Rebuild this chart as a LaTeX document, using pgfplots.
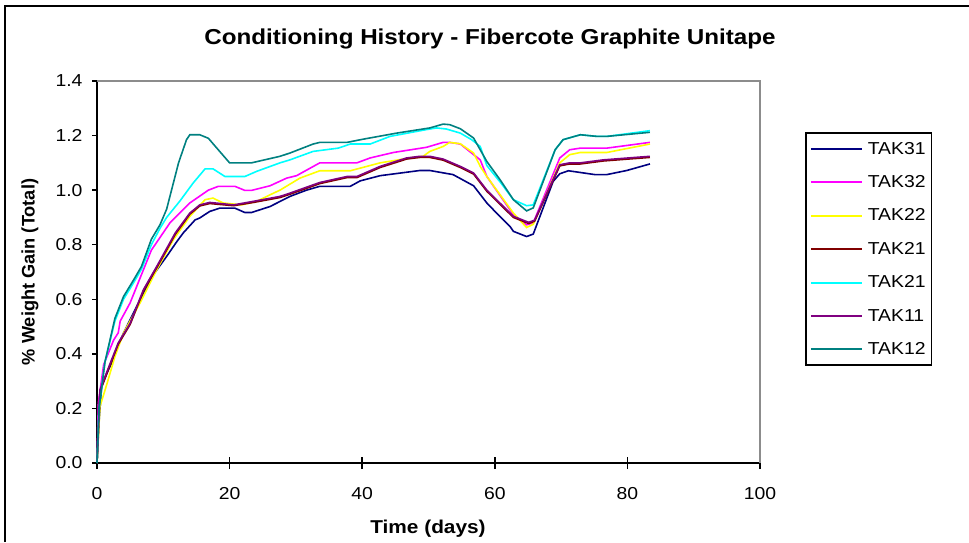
\documentclass[border=0pt]{standalone}
\usepackage{pgfplots}
\pgfplotsset{compat=1.18}
\usepackage{fontspec}
\setmainfont[FakeStretch=1.12]{Liberation Sans}
\newfontfamily\plainfont{Liberation Sans}
\definecolor{cnavy}{RGB}{0,0,128}
\definecolor{cmag}{RGB}{255,0,255}
\definecolor{cyel}{RGB}{255,255,0}
\definecolor{cmar}{RGB}{128,0,0}
\definecolor{ccyan}{RGB}{0,255,255}
\definecolor{cpur}{RGB}{128,0,128}
\definecolor{cteal}{RGB}{0,128,128}
\begin{document}
\begin{tikzpicture}[x=1pt,y=1pt]
\useasboundingbox (0,0) rectangle (969,542);
\draw[line width=2pt] (5,0) -- (5,536) -- (969,536);
\node[anchor=base,font=\fontsize{21.6}{24}\selectfont\bfseries] at (490,497) {Conditioning History - Fibercote Graphite Unitape};
\node[anchor=base,font=\fontsize{18.6}{20}\selectfont\bfseries] at (428,9) {Time (days)};
\node[rotate=90,font=\plainfont\fontsize{18.2}{20}\selectfont\bfseries] at (30,270) {\% Weight Gain (Total)};
\begin{axis}[
  at={(97pt,79pt)}, anchor=south west,
  scale only axis, width=663pt, height=382pt,
  xmin=0, xmax=100, ymin=0, ymax=1.4,
  xtick={0,20,...,100}, ytick={0,0.2,...,1.4},
  axis lines*=left,
  axis line style={black, line width=1.5pt},
  tick align=outside,
  major tick length=5pt,
  tick style={black, line width=1.5pt},
  xtick style={/pgfplots/major tick length=12pt, yshift=6pt},
  ticklabel style={font=\fontsize{17.3}{19}\selectfont},
  /pgf/number format/assume math mode=true,
  yticklabel style={/pgf/number format/fixed, /pgf/number format/fixed zerofill, /pgf/number format/precision=1, xshift=-6pt},
  xticklabel style={yshift=-16pt},
  clip=false,
  legend style={
    at={(axis description cs:1.068,0.866)}, anchor=north west,
    draw=black, line width=1.5pt, fill=white,
    font=\fontsize{17.3}{18}\selectfont,
    inner xsep=4pt, inner ysep=7pt,
    row sep=15.9pt,
    nodes={inner sep=2pt},
    /tikz/every odd column/.append style={column sep=3pt},
  },
  legend cell align=left,
  legend image code/.code={\draw[#1, line width=2pt] (0pt,0pt) -- (51pt,0pt);},
  every axis plot/.append style={line width=1.6pt, no markers, sharp plot},
]
\draw[gray!90, line width=1.5pt] (rel axis cs:0,1) -- (rel axis cs:1,1) -- (rel axis cs:1,0);
% TAK31
\addplot[cnavy] coordinates {
(0,0)(0.3,0.15)(0.7,0.28)(1.5,0.33)(2.2,0.366)(3,0.42)(4,0.476)(5.5,0.55)(7,0.622)(8.5,0.69)(10.5,0.757)(12,0.81)(13,0.843)(14.8,0.891)(15.5,0.898)(17,0.922)(18.5,0.934)(20.8,0.934)(22.3,0.918)(23.3,0.918)(26.1,0.94)(29.1,0.977)(31.6,1.0)(33.6,1.014)(38.2,1.014)(39.7,1.034)(42.7,1.053)(48.7,1.072)(50.2,1.072)(53.7,1.057)(56.8,1.016)(58.8,0.953)(60.5,0.91)(62.3,0.867)(62.8,0.849)(64.8,0.83)(65.8,0.839)(68.8,1.032)(69.8,1.06)(71.1,1.071)(75.1,1.057)(76.9,1.057)(79.9,1.072)(83.4,1.096)};
\addlegendentry{TAK31}
% TAK32
\addplot[cmag] coordinates {
(0,0)(0.2,0.22)(1,0.36)(2.5,0.45)(3.2,0.477)(3.5,0.52)(5,0.587)(6.5,0.678)(8.2,0.78)(11,0.88)(14,0.953)(16.8,1.0)(18.3,1.014)(20.8,1.014)(22.3,0.999)(23.3,0.999)(26.1,1.016)(28.6,1.044)(30.1,1.053)(33.6,1.10)(39.2,1.10)(41.2,1.118)(44.7,1.138)(49.7,1.157)(52.2,1.175)(53.2,1.175)(54.8,1.169)(56.5,1.136)(57.8,1.111)(58.8,1.05)(60.8,0.98)(62.8,0.91)(64.8,0.873)(65.8,0.88)(69.8,1.118)(71.3,1.148)(72.9,1.154)(76.9,1.154)(83.4,1.175)};
\addlegendentry{TAK32}
% TAK22
\addplot[cyel] coordinates {
(0,0)(0.45,0.207)(1.5,0.29)(2.7,0.39)(4,0.476)(6.5,0.587)(9,0.708)(11.5,0.818)(14,0.904)(16.3,0.965)(17.5,0.971)(19,0.953)(21.8,0.946)(24.1,0.959)(26.1,0.983)(27.6,1.0)(30.6,1.044)(33.6,1.071)(38.2,1.071)(42.7,1.10)(47.7,1.12)(49.2,1.124)(50.2,1.142)(52.2,1.16)(53.2,1.175)(54.8,1.17)(56.8,1.136)(57.8,1.087)(58.8,1.05)(62.8,0.916)(64.8,0.863)(65.8,0.875)(69.8,1.1)(71.3,1.13)(72.9,1.138)(76.9,1.138)(83.4,1.169)};
\addlegendentry{TAK22}
% TAK21 (maroon)
\addplot[cmar] coordinates {
(0,0)(0.45,0.262)(2,0.36)(3.2,0.435)(5,0.508)(7,0.63)(9,0.715)(11.8,0.838)(14,0.912)(15.5,0.942)(17,0.951)(20.6,0.943)(23.6,0.955)(27.6,0.973)(29.1,0.985)(33.6,1.024)(37.7,1.046)(39.2,1.046)(42.7,1.083)(46.7,1.114)(48.7,1.12)(50.2,1.12)(52.2,1.11)(54.8,1.083)(56.8,1.059)(58.8,0.996)(62.8,0.9)(65.1,0.878)(66,0.886)(69.8,1.089)(71.3,1.096)(72.9,1.096)(76.4,1.107)(83.4,1.12)};
\addlegendentry{TAK21}
% TAK21 (cyan)
\addplot[ccyan] coordinates {
(0,0)(0.3,0.2)(1.2,0.37)(2.7,0.52)(4,0.6)(5.5,0.66)(6.7,0.71)(8.2,0.80)(9.5,0.86)(10.5,0.90)(12.5,0.96)(14.5,1.026)(16.3,1.078)(17.5,1.078)(19.3,1.05)(22.3,1.05)(24.1,1.069)(27.6,1.10)(29.1,1.111)(32.6,1.142)(36.4,1.154)(38.2,1.169)(41.2,1.169)(44.2,1.197)(49.7,1.222)(51.2,1.228)(52.7,1.224)(54.8,1.209)(56.5,1.185)(57.8,1.16)(58.8,1.09)(60.8,1.03)(62.8,0.965)(64.8,0.943)(65.8,0.946)(69.1,1.148)(70.3,1.185)(72.9,1.203)(75.4,1.197)(76.9,1.197)(83.4,1.218)};
\addlegendentry{TAK21}
% TAK11
\addplot[cpur] coordinates {
(0,0)(0.45,0.268)(2,0.366)(3.2,0.44)(5,0.512)(7,0.635)(9,0.72)(11.8,0.843)(14,0.916)(15.5,0.946)(17,0.955)(20.6,0.946)(23.6,0.959)(27.6,0.977)(29.1,0.989)(33.6,1.028)(37.7,1.05)(39.2,1.05)(42.7,1.087)(46.7,1.118)(48.7,1.124)(50.2,1.124)(52.2,1.114)(54.8,1.087)(56.8,1.063)(58.8,1.0)(62.8,0.904)(65.1,0.882)(66,0.89)(69.8,1.093)(71.3,1.10)(72.9,1.10)(76.4,1.111)(83.4,1.124)};
\addlegendentry{TAK11}
% TAK12
\addplot[cteal] coordinates {
(0,0)(0.3,0.2)(1.2,0.37)(2.7,0.53)(4,0.61)(5.5,0.67)(6.7,0.72)(8.2,0.82)(9.5,0.873)(10.5,0.93)(12.3,1.10)(13.5,1.185)(14,1.203)(15.5,1.203)(16.8,1.19)(18.5,1.142)(20,1.10)(23.3,1.10)(27.6,1.124)(29.1,1.136)(32.6,1.169)(33.6,1.175)(37.7,1.175)(40.2,1.187)(45.2,1.209)(50.2,1.228)(52.2,1.242)(53.2,1.24)(54.8,1.225)(56.8,1.191)(58.8,1.105)(60.8,1.038)(62.8,0.965)(64.8,0.924)(65.8,0.935)(69.1,1.148)(70.3,1.185)(72.9,1.203)(75.4,1.197)(76.9,1.197)(83.4,1.212)};
\addlegendentry{TAK12}
\end{axis}
\end{tikzpicture}
\end{document}
